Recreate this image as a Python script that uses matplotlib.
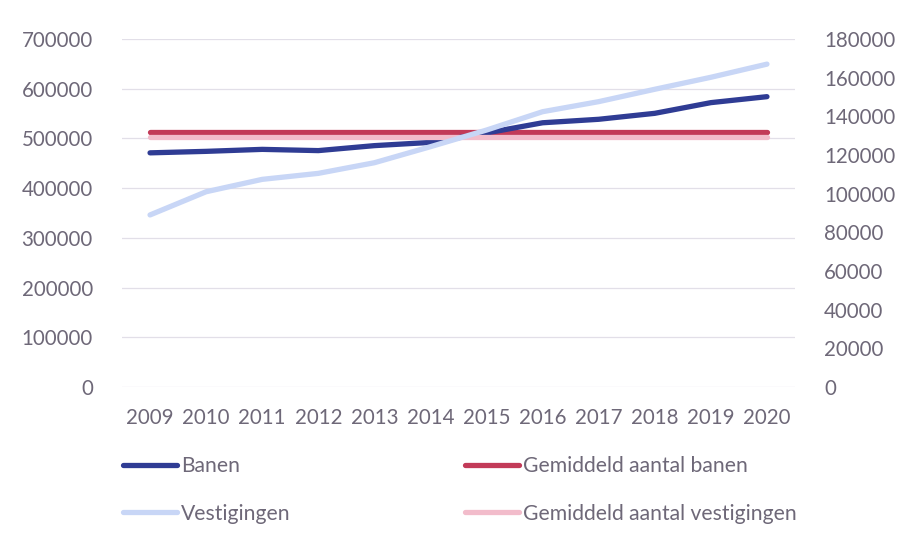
import matplotlib
matplotlib.use("Agg")
import matplotlib.pyplot as plt
from matplotlib.lines import Line2D

plt.rcParams['font.family'] = ['Lato', 'DejaVu Sans']

years = ['2009', '2010', '2011', '2012', '2013', '2014', '2015', '2016', '2017', '2018', '2019', '2020']
banen = [471000, 474000, 478000, 475500, 485500, 492000, 511000, 531500, 538500, 550500, 572000, 584000]
vestigingen = [89000, 101000, 107400, 110500, 116000, 124300, 132900, 142400, 147600, 154000, 160200, 167000]
gem_banen = [513500] * len(years)
gem_vestigingen = [129100] * len(years)

left_ticks = [0, 100000, 200000, 300000, 400000, 500000, 600000, 700000]
right_ticks = [0, 20000, 40000, 60000, 80000, 100000, 120000, 140000, 160000, 180000]

c_banen = '#2f3c94'
c_vest = '#c8d6f6'
c_gb = '#c23a58'
c_gv = '#f2bccb'
txt = '#6e6878'
grid_c = '#e2dfe8'

fig = plt.figure(figsize=(9.01, 5.41), dpi=100)
fig.patch.set_facecolor('white')
ax = fig.add_axes([122/901, 1 - 387/541, (795-122)/901, (387-39)/541])
ax2 = ax.twinx()

x = list(range(len(years)))
lw = 3.8
ax.plot(x, gem_banen, color=c_gb, lw=lw, solid_capstyle='round', zorder=3)
ax.plot(x, banen, color=c_banen, lw=lw, solid_capstyle='round', zorder=4)
ax2.plot(x, gem_vestigingen, color=c_gv, lw=lw, solid_capstyle='round', zorder=2)
ax2.plot(x, vestigingen, color=c_vest, lw=lw, solid_capstyle='round', zorder=3)

ax.set_xlim(-0.5, len(years) - 0.5)
ax.set_ylim(0, 700000)
ax2.set_ylim(0, 180000)
ax.set_yticks(left_ticks)
ax.set_yticklabels([str(v) for v in left_ticks])
ax2.set_yticks(right_ticks)
ax2.set_yticklabels([str(v) for v in right_ticks])
ax.set_xticks(x)
ax.set_xticklabels(years)

for a in (ax, ax2):
    for s in a.spines.values():
        s.set_visible(False)
    a.tick_params(length=0, labelsize=14.8, colors=txt)
    a.patch.set_visible(False)
ax.tick_params(axis='y', pad=21)
ax2.tick_params(axis='y', pad=21)
ax.tick_params(axis='x', pad=15)
ax.yaxis.grid(True, color=grid_c, lw=0.9, zorder=0)
ax.set_axisbelow(True)

h1 = [Line2D([], [], color=c_banen, lw=lw, solid_capstyle='round'),
      Line2D([], [], color=c_vest, lw=lw, solid_capstyle='round')]
h2 = [Line2D([], [], color=c_gb, lw=lw, solid_capstyle='round'),
      Line2D([], [], color=c_gv, lw=lw, solid_capstyle='round')]
common = dict(loc='center left', frameon=False, fontsize=15.2, handlelength=2.55,
              handletextpad=0.2, labelspacing=1.3, borderpad=0, borderaxespad=0,
              labelcolor=txt)
leg1 = fig.legend(h1, ['Banen', 'Vestigingen'], bbox_to_anchor=(123/901, 1 - 490/541), **common)
leg2 = fig.legend(h2, ['Gemiddeld aantal banen', 'Gemiddeld aantal vestigingen'],
                  bbox_to_anchor=(465/901, 1 - 490/541), **common)

fig.savefig('out.png', dpi=100, facecolor='white')
